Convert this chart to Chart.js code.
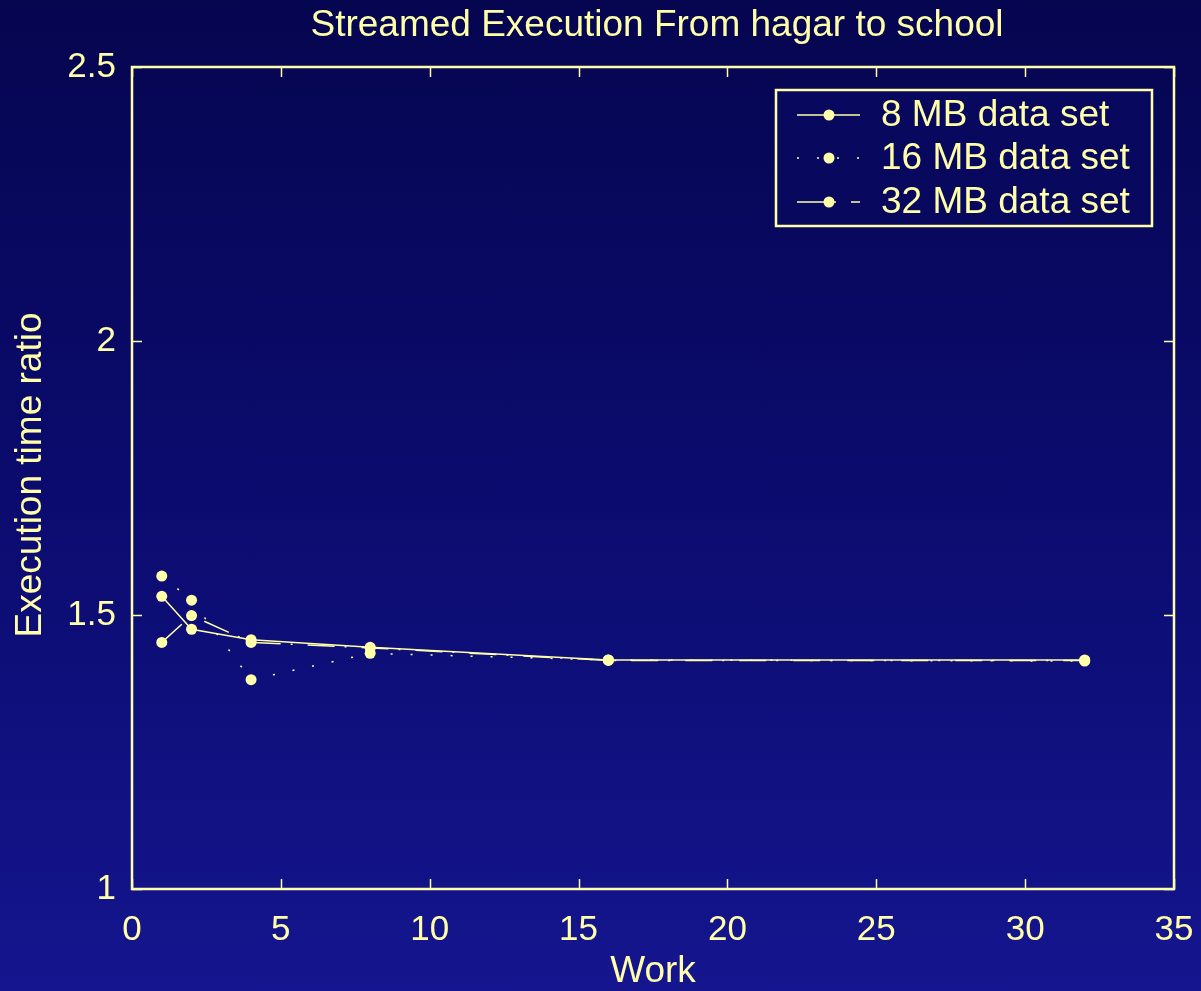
<!DOCTYPE html>
<html>
<head>
<meta charset="utf-8">
<script src="https://cdn.jsdelivr.net/npm/chart.js@4"></script>
<style>
html,body{margin:0;padding:0;width:1201px;height:991px;overflow:hidden;
background:linear-gradient(to bottom,#050550 0%,#0c0c72 55%,#15158f 100%);}
#wrap{position:absolute;left:0;top:0;width:1201px;height:991px;}
</style>
</head>
<body>
<div id="wrap"><canvas id="c" width="1201" height="991"></canvas></div>
<script>
const workValues = [1, 2, 4, 8, 16, 32];
const series8MB  = [1.534, 1.474, 1.455, 1.441, 1.418, 1.418];
const series16MB = [1.571, 1.527, 1.382, 1.430, 1.418, 1.416];
const series32MB = [1.450, 1.499, 1.450, 1.440, 1.417, 1.417];
const seriesNames = ['8 MB data set', '16 MB data set', '32 MB data set'];
const xTicks = [0, 5, 10, 15, 20, 25, 30, 35];
const yTicks = [1, 1.5, 2, 2.5];
const titleText = 'Streamed Execution From hagar to school';
const xTitle = 'Work';
const yTitle = 'Execution time ratio';

const FG = '#ffffaa';
const FONT = '"Liberation Sans", Arial, Helvetica, sans-serif';
const dashes = [[], [2, 18], [27, 10, 2, 15]];

function toPts(ys){ return workValues.map((x,i)=>({x:x, y:ys[i]})); }

const datasets = [series8MB, series16MB, series32MB].map((ys, i) => ({
  label: seriesNames[i],
  data: toPts(ys),
  borderColor: FG,
  backgroundColor: FG,
  borderWidth: 1.5,
  borderDash: dashes[i],
  pointRadius: 5.5,
  pointBorderWidth: 0,
  pointBackgroundColor: FG,
  tension: 0,
  fill: false
}));

const framePlugin = {
  id: 'frame',
  afterDraw(chart) {
    const ctx = chart.ctx, a = chart.chartArea;
    const xs = chart.scales.x, ys = chart.scales.y;
    ctx.save();
    ctx.strokeStyle = FG;
    ctx.lineWidth = 2.5;
    ctx.strokeRect(a.left, a.top, a.right - a.left, a.bottom - a.top);
    ctx.lineWidth = 1.5;
    ctx.beginPath();
    xTicks.forEach(v => {
      const px = Math.round(xs.getPixelForValue(v)) + 0.5;
      ctx.moveTo(px, a.bottom); ctx.lineTo(px, a.bottom - 10);
      ctx.moveTo(px, a.top); ctx.lineTo(px, a.top + 10);
    });
    yTicks.forEach(v => {
      const py = Math.round(ys.getPixelForValue(v)) + 0.5;
      ctx.moveTo(a.left, py); ctx.lineTo(a.left + 10, py);
      ctx.moveTo(a.right, py); ctx.lineTo(a.right - 10, py);
    });
    ctx.stroke();

    // title and axis titles
    ctx.fillStyle = FG;
    ctx.font = '37px ' + FONT;
    ctx.textAlign = 'center';
    ctx.textBaseline = 'middle';
    ctx.fillText(titleText, 657, 26);
    ctx.fillText(xTitle, 653, 972);
    ctx.save();
    ctx.translate(31, 475);
    ctx.rotate(-Math.PI / 2);
    ctx.fillText(yTitle, 0, 0);
    ctx.restore();

    // legend
    const L = 776, T = 90, R = 1152, B = 226;
    ctx.fillStyle = '#08085e';
    ctx.fillRect(L, T, R - L, B - T);
    ctx.lineWidth = 2.5;
    ctx.strokeStyle = FG;
    ctx.strokeRect(L, T, R - L, B - T);
    const rows = [115, 158, 202];
    ctx.textAlign = 'left';
    rows.forEach((ry, i) => {
      ctx.lineWidth = 1.5;
      ctx.setLineDash(dashes[i]);
      ctx.beginPath();
      ctx.moveTo(797, ry); ctx.lineTo(860, ry);
      ctx.stroke();
      ctx.setLineDash([]);
      ctx.beginPath();
      ctx.arc(829, ry, 5.5, 0, Math.PI * 2);
      ctx.fillStyle = FG;
      ctx.fill();
      ctx.fillText(seriesNames[i], 881, ry + 1);
    });
    ctx.restore();
  }
};

new Chart(document.getElementById('c'), {
  type: 'line',
  data: { datasets },
  plugins: [framePlugin],
  options: {
    responsive: false,
    animation: false,
    devicePixelRatio: 1,
    layout: { padding: { top: 67, right: 27, left: 0, bottom: 0 } },
    plugins: { legend: { display: false }, title: { display: false }, tooltip: { enabled: false } },
    scales: {
      x: {
        type: 'linear', min: 0, max: 35,
        afterBuildTicks: s => { s.ticks = xTicks.map(v => ({ value: v })); },
        grid: { display: false, drawTicks: false },
        border: { display: false },
        ticks: { color: FG, font: { family: FONT, size: 35 }, padding: 20, maxRotation: 0,
                 callback: v => String(v) },
        afterFit: s => { s.height = 102; s.paddingLeft = 0; s.paddingRight = 0; }
      },
      y: {
        type: 'linear', min: 1, max: 2.5,
        afterBuildTicks: s => { s.ticks = yTicks.map(v => ({ value: v })); },
        grid: { display: false, drawTicks: false },
        border: { display: false },
        ticks: { color: FG, font: { family: FONT, size: 35 }, padding: 16,
                 callback: v => String(v) },
        afterFit: s => { s.width = 132; s.paddingTop = 0; s.paddingBottom = 0; }
      }
    }
  }
});
</script>
</body>
</html>
